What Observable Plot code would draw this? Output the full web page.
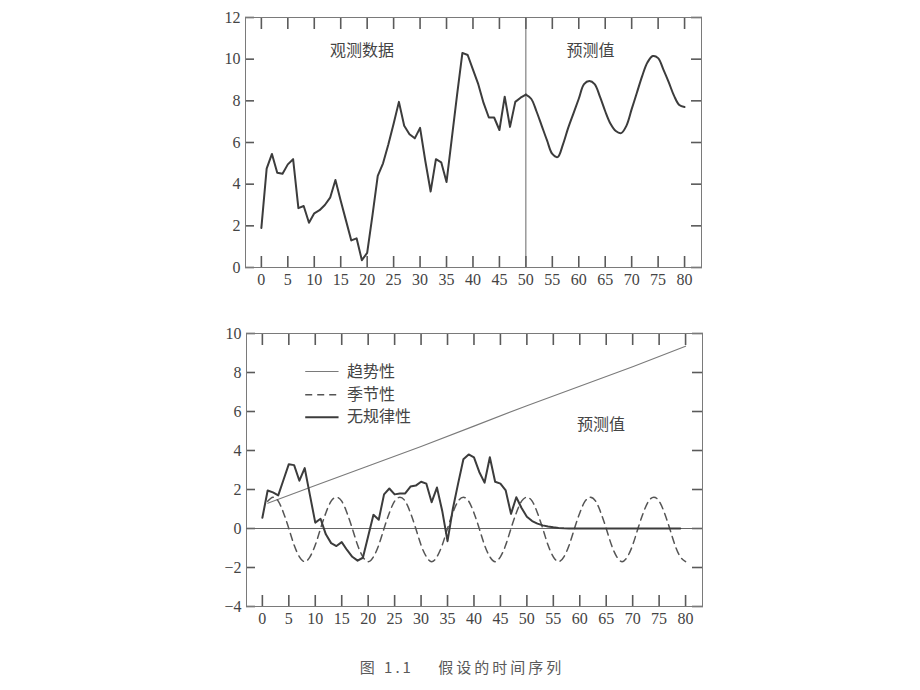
<!DOCTYPE html>
<html><head><meta charset="utf-8">
<script src="https://cdn.jsdelivr.net/npm/d3@7"></script>
<script src="https://cdn.jsdelivr.net/npm/@observablehq/plot@0.6"></script>
<style>
body{margin:0;background:#fff;width:920px;height:690px;position:relative;overflow:hidden}
#top{position:absolute;left:0;top:0}
#bottom{position:absolute;left:0;top:300px}
#caption{position:absolute;left:2px;width:920px;top:656px;text-align:center;font-family:"Noto Sans CJK SC",sans-serif;font-size:15px;color:#5a5a5a;letter-spacing:3px;white-space:pre}
</style></head><body>
<div id="top"></div><div id="bottom"></div>
<div id="caption">图 1.1　 假设的时间序列</div>
<script>
// ---- data ----
const xTicks = [0,5,10,15,20,25,30,35,40,45,50,55,60,65,70,75,80];
const yTicksTop = [0,2,4,6,8,10,12];
const yTicksBottom = [-4,-2,0,2,4,6,8,10];

// top chart: observed (t = 0..50) and forecast (t = 50..80)
const observedT = d3.range(0, 51);
const observedV = [1.9,4.75,5.45,4.55,4.5,4.95,5.2,2.85,2.95,2.15,2.6,2.75,3.0,3.35,4.2,3.2,2.25,1.3,1.4,0.35,
  0.7,2.5,4.4,5.0,5.9,6.9,7.95,6.8,6.4,6.2,6.7,5.1,3.65,5.2,5.05,4.1,6.2,8.3,10.3,10.2,
  9.5,8.8,7.9,7.2,7.2,6.6,8.2,6.75,7.95,8.15,8.3];
const forecastT = d3.range(50, 81);
const forecastV = [8.3,8.1,7.5,6.8,6.1,5.45,5.3,5.9,6.7,7.4,8.1,8.8,8.95,8.8,8.2,7.5,6.9,6.55,6.45,6.8,
  7.6,8.4,9.2,9.85,10.15,10.05,9.5,8.9,8.25,7.8,7.7];
const dividerT = 50;

// bottom chart: components
const trendT = [1,10,20,30,40,50,60,70,80];
const trendV = [1.3,2.2,3.2,4.2,5.25,6.3,7.3,8.3,9.35];
const seasonalT = d3.range(1, 81);
const seasonalV = [1.4,1.6,1.4,0.8,0,-0.85,-1.45,-1.7,-1.45,-0.85,0,0.8,
  1.4,1.6,1.4,0.8,0,-0.85,-1.45,-1.7,-1.45,-0.85,0,0.8,
  1.4,1.6,1.4,0.8,0,-0.85,-1.45,-1.7,-1.45,-0.85,0,0.8,
  1.4,1.6,1.4,0.8,0,-0.85,-1.45,-1.7,-1.45,-0.85,0,0.8,
  1.4,1.6,1.4,0.8,0,-0.85,-1.45,-1.7,-1.45,-0.85,0,0.8,
  1.4,1.6,1.4,0.8,0,-0.85,-1.45,-1.7,-1.45,-0.85,0,0.8,
  1.4,1.6,1.4,0.8,0,-0.85,-1.45,-1.7];
const irregularT = d3.range(0, 80);
const irregularV = [0.55,1.95,1.85,1.7,2.5,3.3,3.25,2.45,3.1,1.7,0.3,0.5,-0.3,-0.75,-0.9,-0.7,-1.1,-1.45,-1.65,-1.5,
  -0.4,0.7,0.45,1.75,2.05,1.75,1.8,1.8,2.15,2.2,2.4,2.3,1.35,2.1,0.9,-0.65,1.0,2.3,3.55,3.8,
  3.65,2.9,2.35,3.65,2.4,2.3,1.95,0.75,1.6,1.05,0.6,0.38,0.25,0.16,0.1,0.06,0.03,0.01,0,0,
  0,0,0,0,0,0,0,0,0,0,0,0,0,0,0,0,0,0,0,0];

const topLabels = ["观测数据","预测值"];
const topLabelT = [19, 62.2];
const topLabelV = [10.4, 10.4];
const bottomLabel = "预测值";
const bottomLabelT = 64, bottomLabelV = 5.3;
const legendLabels = ["趋势性","季节性","无规律性"];
const legendV = [8.05, 6.86, 5.7];
const legendT1 = 8.1, legendT2 = 14.4, legendTextT = 16;

// ---- helpers ----
const pts = (ts, vs) => ts.map((t, i) => ({t, v: vs[i]}));
const serif = "'Liberation Serif','DejaVu Serif',serif";
const cjk = "'Noto Sans CJK SC',sans-serif";
const axisColor = "#7a7a7a";
const tickColor = "#5a5a5a";
const TICK = 11; // px, inward tick length

function axes(yt) {
  const none = () => "";
  const tk = {tickFormat: none, label: null, stroke: tickColor, strokeWidth: 1.6};
  return [
    Plot.axisX({ticks: xTicks, anchor: "bottom", tickSize: 0, tickPadding: 6, label: null, fill: "#444"}),
    Plot.axisY({ticks: yt, anchor: "left", tickSize: 0, tickPadding: 5, label: null, fill: "#444"}),
    Plot.axisX({ticks: xTicks, anchor: "bottom", tickSize: -TICK, ...tk}),
    Plot.axisX({ticks: xTicks, anchor: "top", tickSize: -TICK, ...tk}),
    Plot.axisY({ticks: yt, anchor: "left", tickSize: -9, ...tk}),
    Plot.axisY({ticks: yt, anchor: "right", tickSize: -TICK, ...tk})
  ];
}

const style = {fontFamily: serif, fontSize: "16px", color: "#444"};

const topPlot = Plot.plot({
  width: 920, height: 295,
  marginLeft: 245, marginRight: 219, marginTop: 17, marginBottom: 28,
  x: {domain: [-3, 83.2]},
  y: {domain: [0, 12]},
  style,
  marks: [
    ...axes(yTicksTop),
    Plot.frame({stroke: axisColor}),
    Plot.ruleX([dividerT], {stroke: "#666", strokeWidth: 1}),
    Plot.line(pts(observedT, observedV), {x: "t", y: "v", stroke: "#3c3c3c", strokeWidth: 2, strokeLinejoin: "round"}),
    Plot.line(pts(forecastT, forecastV), {x: "t", y: "v", stroke: "#3c3c3c", strokeWidth: 2, curve: "catmull-rom"}),
    Plot.text(topLabels.map((s, i) => ({s, t: topLabelT[i], v: topLabelV[i]})),
      {x: "t", y: "v", text: "s", fontFamily: cjk, fontSize: 16, fill: "#444"})
  ]
});
document.getElementById("top").append(topPlot);

const legendData = legendLabels.map((s, i) => ({s, v: legendV[i]}));
const bottomPlot = Plot.plot({
  width: 920, height: 335,
  marginLeft: 246, marginRight: 218, marginTop: 33, marginBottom: 29,
  x: {domain: [-3, 83.2]},
  y: {domain: [-4, 10]},
  style,
  marks: [
    ...axes(yTicksBottom),
    Plot.frame({stroke: axisColor}),
    Plot.ruleY([0], {stroke: "#666", strokeWidth: 1}),
    Plot.line(pts(trendT, trendV), {x: "t", y: "v", stroke: "#7a7a7a", strokeWidth: 1.1}),
    Plot.line(pts(seasonalT, seasonalV), {x: "t", y: "v", stroke: "#555", strokeWidth: 1.5, strokeDasharray: "7,5", curve: "natural"}),
    Plot.line(pts(irregularT, irregularV), {x: "t", y: "v", stroke: "#3c3c3c", strokeWidth: 2, strokeLinejoin: "round"}),
    Plot.link([legendData[0]], {x1: () => legendT1, x2: () => legendT2, y1: "v", y2: "v", stroke: "#7a7a7a", strokeWidth: 1.1}),
    Plot.link([legendData[1]], {x1: () => legendT1, x2: () => legendT2, y1: "v", y2: "v", stroke: "#555", strokeWidth: 1.5, strokeDasharray: "7,5"}),
    Plot.link([legendData[2]], {x1: () => legendT1, x2: () => legendT2, y1: "v", y2: "v", stroke: "#3c3c3c", strokeWidth: 2}),
    Plot.text(legendData, {x: () => legendTextT, y: "v", text: "s", textAnchor: "start", fontFamily: cjk, fontSize: 16, fill: "#444"}),
    Plot.text([{s: bottomLabel, t: bottomLabelT, v: bottomLabelV}], {x: "t", y: "v", text: "s", fontFamily: cjk, fontSize: 16, fill: "#444"})
  ]
});
document.getElementById("bottom").append(bottomPlot);
</script>
</body></html>
